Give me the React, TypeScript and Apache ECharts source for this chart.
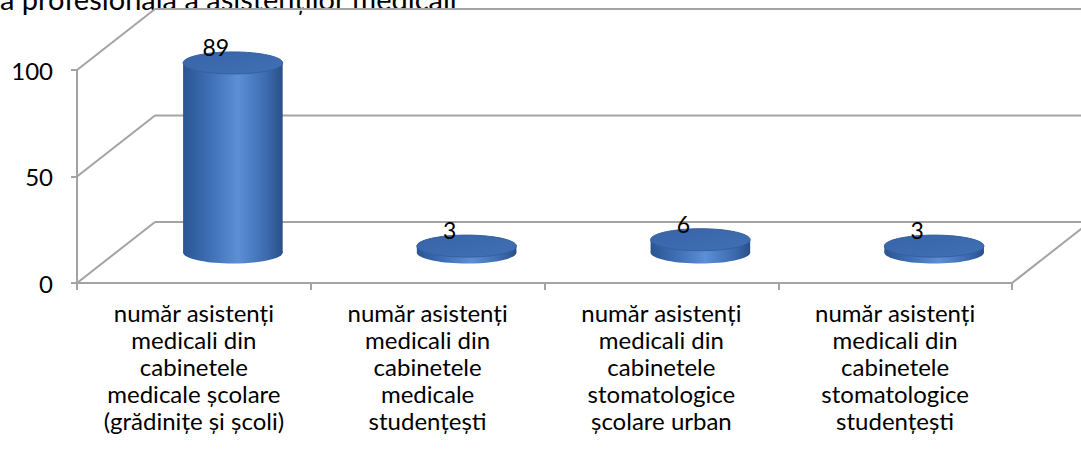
import React, { useEffect, useRef } from "react";
import * as echarts from "echarts";

const titleText = "a profesională a asistenților medicali";
const categories = [
  "număr asistenți\nmedicali din\ncabinetele\nmedicale școlare\n(grădinițe și școli)",
  "număr asistenți\nmedicali din\ncabinetele\nmedicale\nstudențești",
  "număr asistenți\nmedicali din\ncabinetele\nstomatologice\nșcolare urban",
  "număr asistenți\nmedicali din\ncabinetele\nstomatologice\nstudențești",
];
const values = [89, 3, 6, 3];
const yTicks = [0, 50, 100];

const FONT = "Lato, 'Open Sans', sans-serif";
const DEPTH_X = 78;
const DEPTH_Y = -61;
const GRID_COLOR = "#a3a3a3";

export default function App() {
  const ref = useRef<HTMLDivElement>(null);
  useEffect(() => {
    if (!ref.current) return;
    const chart = echarts.init(ref.current, null, { renderer: "svg" });
    const option: any = {
      animation: false,
      backgroundColor: "#ffffff",
      graphic: [
        {
          type: "text",
          left: 0,
          top: -16,
          style: {
            text: titleText,
            font: `29px ${FONT}`,
            fill: "#000",
          },
        },
      ],
      grid: { left: 77, top: 70, width: 935, height: 213, containLabel: false },
      xAxis: {
        type: "category",
        data: categories,
        boundaryGap: true,
        axisLine: { show: true, lineStyle: { color: GRID_COLOR, width: 2 } },
        axisTick: { show: true, length: 7, lineStyle: { color: GRID_COLOR, width: 2 } },
        axisLabel: {
          interval: 0,
          margin: 16,
          color: "#000",
          fontSize: 24,
          lineHeight: 27,
          fontFamily: FONT,
          align: "center",
        },
        splitLine: { show: false },
      },
      yAxis: {
        type: "value",
        min: 0,
        max: 100,
        interval: 50,
        axisLine: { show: true, lineStyle: { color: GRID_COLOR, width: 2 } },
        axisTick: { show: true, length: 6, lineStyle: { color: GRID_COLOR, width: 2 } },
        axisLabel: { margin: 24, color: "#000", fontSize: 24, fontFamily: FONT },
        splitLine: { show: false },
      },
      series: [
        {
          type: "custom",
          name: "walls",
          silent: true,
          z: 1,
          data: yTicks.map((v) => [0, v]),
          renderItem: (params: any, api: any) => {
            const cs = params.coordSys;
            const v = api.value(1);
            const y = api.coord([0, v])[1];
            const x0 = cs.x;
            const x1 = cs.x + cs.width;
            const ls = { stroke: GRID_COLOR, lineWidth: 2, fill: null };
            const children: any[] = [
              { type: "line", shape: { x1: x0 + DEPTH_X, y1: y + DEPTH_Y, x2: x1 + DEPTH_X + 200, y2: y + DEPTH_Y }, style: ls },
              { type: "line", shape: { x1: x0, y1: y, x2: x0 + DEPTH_X, y2: y + DEPTH_Y }, style: ls },
            ];
            if (v === 0) {
              children.push({ type: "line", shape: { x1: x1, y1: y, x2: x1 + DEPTH_X, y2: y + DEPTH_Y }, style: ls });
            }
            return { type: "group", children };
          },
        },
        {
          type: "custom",
          name: "cylinders",
          z: 3,
          data: values.map((v, i) => [i, v]),
          renderItem: (params: any, api: any) => {
            const idx = api.value(0);
            const v = api.value(1);
            const base = api.coord([idx, 0]);
            const top = api.coord([idx, v]);
            const band = api.size([1, 0])[0];
            const rx = band * 0.213;
            const ry = 11;
            const cx = base[0] + DEPTH_X / 2;
            const by = base[1] + DEPTH_Y / 2;
            const ty = top[1] + DEPTH_Y / 2;
            const bodyFill = new echarts.graphic.LinearGradient(0, 0, 1, 0, [
              { offset: 0, color: "#2b5592" },
              { offset: 0.25, color: "#3d6db3" },
              { offset: 0.55, color: "#5b8fd6" },
              { offset: 0.85, color: "#3b69ad" },
              { offset: 1, color: "#2a4f86" },
            ]);
            const topFill = new echarts.graphic.LinearGradient(0, 0, 1, 1, [
              { offset: 0, color: "#3864a8" },
              { offset: 1, color: "#4170b6" },
            ]);
            return {
              type: "group",
              children: [
                { type: "ellipse", shape: { cx, cy: by, rx, ry }, style: { fill: bodyFill } },
                { type: "rect", shape: { x: cx - rx, y: ty, width: rx * 2, height: by - ty }, style: { fill: bodyFill } },
                { type: "ellipse", shape: { cx, cy: ty, rx, ry }, style: { fill: topFill, stroke: "#36609f", lineWidth: 1 } },
                {
                  type: "text",
                  x: cx - 17,
                  y: ty - 16,
                  style: {
                    text: String(v),
                    font: `23px ${FONT}`,
                    fill: "#000",
                    align: "center",
                    verticalAlign: "middle",
                  },
                },
              ],
            };
          },
        },
      ],
    };
    chart.setOption(option);
    return () => chart.dispose();
  }, []);
  return (
    <div
      ref={ref}
      style={{ position: "fixed", left: 0, top: 0, width: 1081, height: 459, background: "#fff" }}
    />
  );
}
